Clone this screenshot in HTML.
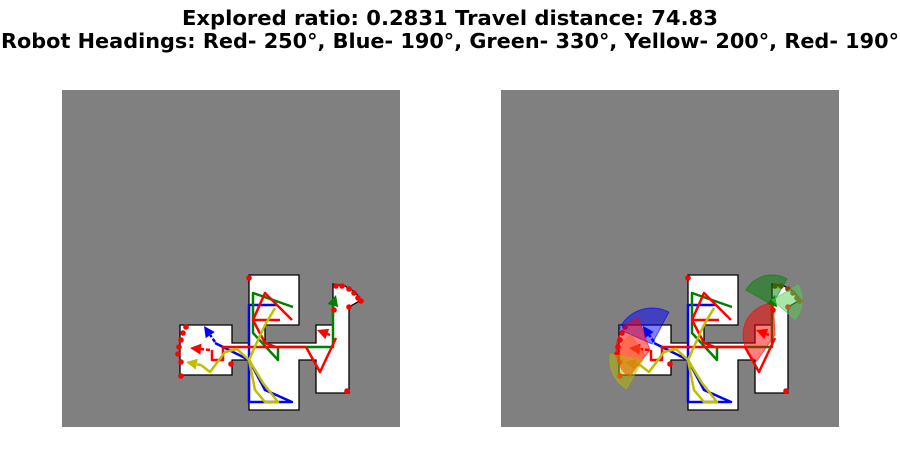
<!DOCTYPE html>
<html><head><meta charset="utf-8">
<style>
html,body{margin:0;padding:0;background:#fff;}
svg{display:block;font-family:"DejaVu Sans","Liberation Sans",sans-serif;}
</style></head>
<body>
<svg id="c" width="900" height="450" xmlns="http://www.w3.org/2000/svg">
<text x="450" y="25" text-anchor="middle" font-size="20" font-weight="bold" textLength="536" lengthAdjust="spacingAndGlyphs">Explored ratio: 0.2831  Travel distance: 74.83</text>
<text x="450" y="48" text-anchor="middle" font-size="20" font-weight="bold" textLength="898" lengthAdjust="spacingAndGlyphs">Robot Headings: Red- 250°, Blue- 190°, Green- 330°, Yellow- 200°, Red- 190°</text>
<g id="left"></g>
<g id="right"></g>
</svg>
<script>
const NS="http://www.w3.org/2000/svg";
// map outline (left-panel pixel coords)
const mapOutline=[[249,275],[299,275],[299,325],[265,325],[265,343],[316,343],[316,325],[333,325],[333,284],[345,286],[355,292],[361,300],[349,307],[349,393],[316,393],[316,360],[299,360],[299,410],[249,410],[249,360],[232,360],[232,375],[180,375],[180,325],[232,325],[232,343],[249,343]];
const bluePath=[[215,343],[249,360],[265,390],[292,402],[249,402],[249,305],[277,305]];
const blueArrow=[[215,342],[204,326]];
const greenPath=[[293,307],[253,293],[253,333],[278,360],[278,347],[333,347],[333,302]];
const greenArrow=[[333,305],[336,295]];
const redPath1=[[292,320],[265,293],[253,320],[280,320]];
const redPath2=[[253,320],[265,343],[276,347],[223,347],[223,360],[212,360],[212,350]];
const redPath3=[[306,347],[320,372],[336,338]];
const redLine4=[[276,347],[306,347]];
const redArrowA=[[210,350],[190,348]];
const redArrowB=[[330,335],[317,330]];
const yellowPath=[[201,365],[210,372],[225,352],[237,349],[249,360],[263,383],[278,402],[265,402],[255,390],[249,360],[258,340],[265,325],[275,308]];
const yellowArrow=[[201,365],[186,362]];
const frontierDots=[[186,327],[183,333],[181,340],[179,347],[178,354],[181,362],[181,376],[249,278],[231,364],[336,286],[342,286],[349,289],[354,293],[358,298],[361,301],[349,307],[334,310],[347,391]];
// sensor wedges (right panel): apex x,y, radius, start angle, end angle
const wedgeColor=["blue","red","#ff5a1f","#b8b800","green","#55cc55","red"];
const wedgeCx=[652,650,645,643,772,772,775];
const wedgeCy=[344,350,355,360,305,300,335];
const wedgeR=[36,34,25,33,30,30,32];
const wedgeA0=[-156,-110,-125,120,-150,-30,-93];
const wedgeA1=[-62,-231,-235,190,-60,40,-235];

function el(p,tag,attrs){const e=document.createElementNS(NS,tag);for(const k in attrs)e.setAttribute(k,attrs[k]);p.appendChild(e);return e;}
function pts(a,dx){return a.map(p=>(p[0]+dx)+","+p[1]).join(" ");}
function panel(g,dx,withWedges){
  const bg=el(g,"rect",{x:62+dx,y:90,width:338,height:337,fill:"#808080"});
  
  
  const m=el(g,"polygon",{points:pts(mapOutline,dx),fill:"#fff",stroke:"#000","stroke-width":1.3});
  
  
  const lines=[[bluePath,"blue"],[greenPath,"green"],[redPath1,"red"],[redPath2,"red"],[redPath3,"red"],[redLine4,"red"],[yellowPath,"#bfbf00"]];
  lines.forEach(([a,c])=>{
    const l=el(g,"polyline",{points:pts(a,dx),fill:"none",stroke:c,"stroke-width":2.5,"stroke-linejoin":"round"});
    
    
  });
  const arrows=[[blueArrow,"blue"],[greenArrow,"green"],[redArrowA,"red"],[redArrowB,"red"],[yellowArrow,"#bfbf00"]];
  arrows.forEach(([a,c])=>{
    const [x0,y0]=a[0],[x1,y1]=a[1];
    const ang=Math.atan2(y1-y0,x1-x0),L=11,W=5.5;
    const bx=x1-L*Math.cos(ang),by=y1-L*Math.sin(ang);
    const nx=-Math.sin(ang)*W,ny=Math.cos(ang)*W;
    const ln=el(g,"line",{x1:x0+dx,y1:y0,x2:bx+dx,y2:by,stroke:c,"stroke-width":2.5,"stroke-dasharray":"4,2"});
    
    
    const h=el(g,"polygon",{points:`${x1+dx},${y1} ${bx+nx+dx},${by+ny} ${bx-nx+dx},${by-ny}`,fill:c});
    
    
  });
  frontierDots.forEach(p=>{
    const d=el(g,"circle",{cx:p[0]+dx,cy:p[1],r:2.8,fill:withWedges&&p[0]>330&&p[1]<305?"#8b4000":"red"});
    
    
  });
  if(withWedges){
    for(let i=0;i<wedgeCx.length;i++){
      const cx=wedgeCx[i],cy=wedgeCy[i],r=wedgeR[i],a0=wedgeA0[i]*Math.PI/180,a1=wedgeA1[i]*Math.PI/180;
      const n=24;let d=`M${cx},${cy}`;
      for(let k=0;k<=n;k++){const a=a0+(a1-a0)*k/n;d+=` L${(cx+r*Math.cos(a)).toFixed(1)},${(cy+r*Math.sin(a)).toFixed(1)}`;}
      d+="Z";
      const w=el(g,"path",{d:d,fill:wedgeColor[i],"fill-opacity":0.5,stroke:wedgeColor[i],"stroke-opacity":0.6});
      
      
    }
  }
}
panel(document.getElementById("left"),0,false);
panel(document.getElementById("right"),439,true);
</script>
</body></html>
